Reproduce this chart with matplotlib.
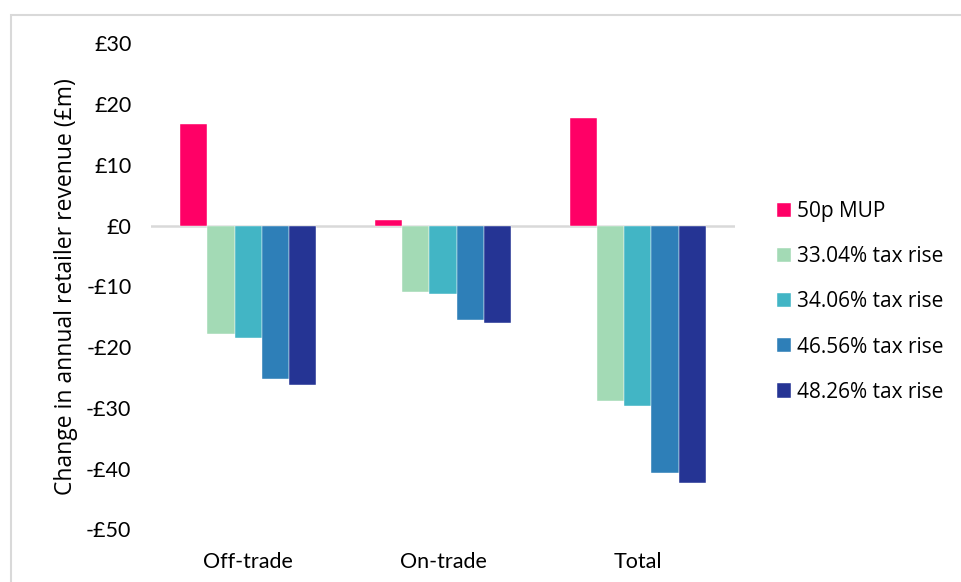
import matplotlib.pyplot as plt
from matplotlib.patches import Rectangle
import numpy as np

categories = ["Off-trade", "On-trade", "Total"]
series_names = ["50p MUP", "33.04% tax rise", "34.06% tax rise",
                "46.56% tax rise", "48.26% tax rise"]
mup_50p = [16.8, 0.9, 17.7]
tax_3304 = [-17.9, -10.9, -28.8]
tax_3406 = [-18.5, -11.2, -29.7]
tax_4656 = [-25.3, -15.5, -40.8]
tax_4826 = [-26.3, -16.0, -42.3]
y_ticks = [30, 20, 10, 0, -10, -20, -30, -40, -50]

series_values = [mup_50p, tax_3304, tax_3406, tax_4656, tax_4826]
colors = ["#FF0066", "#A3DAB5", "#42B5C5", "#2E7FB8", "#253494"]

fig = plt.figure(figsize=(9.61, 5.82), dpi=100)
ax = fig.add_axes([0.157, 0.0905, 0.608, 0.835])

x = np.arange(len(categories))
bar_w = 0.14
offsets = (np.arange(len(series_values)) - 2) * bar_w
for vals, off, col, name in zip(series_values, offsets, colors, series_names):
    ax.bar(x + off, vals, width=bar_w, color=col, label=name,
           edgecolor="white", linewidth=0.3, zorder=2)

ax.axhline(0, color="#D9D9D9", linewidth=1.8, zorder=1)
ax.set_xlim(-0.5, 2.5)
ax.set_ylim(-50, 30)
ax.set_yticks(y_ticks)
ax.set_yticklabels([f"£{v}" if v >= 0 else f"-£{abs(v)}" for v in y_ticks],
                   fontfamily="Lato", fontsize=15.5)
ax.set_xticks(x)
ax.set_xticklabels(categories, fontfamily="Lato", fontsize=15.5)
ax.tick_params(axis="y", length=0, pad=14)
ax.tick_params(axis="x", length=0, pad=16)
for s in ax.spines.values():
    s.set_visible(False)

ax.set_ylabel("Change in annual retailer revenue (£m)", fontfamily="Open Sans",
              fontsize=16.5, labelpad=6)

leg = fig.legend(*ax.get_legend_handles_labels(), loc="center left",
                 bbox_to_anchor=(777 / 961, 1 - 302 / 582), frameon=False,
                 prop={"family": "Open Sans", "size": 15},
                 handlelength=0.67, handleheight=0.67, handletextpad=0.3,
                 labelspacing=1.16, borderaxespad=0, borderpad=0)

# outer chart frame
fig.patches.append(Rectangle((11 / 961, -0.05), 1.0, 1 - 15 / 582 + 0.05,
                             transform=fig.transFigure, fill=False,
                             edgecolor="#D9D9D9", linewidth=1.5))

fig.savefig("out.png", dpi=100)
